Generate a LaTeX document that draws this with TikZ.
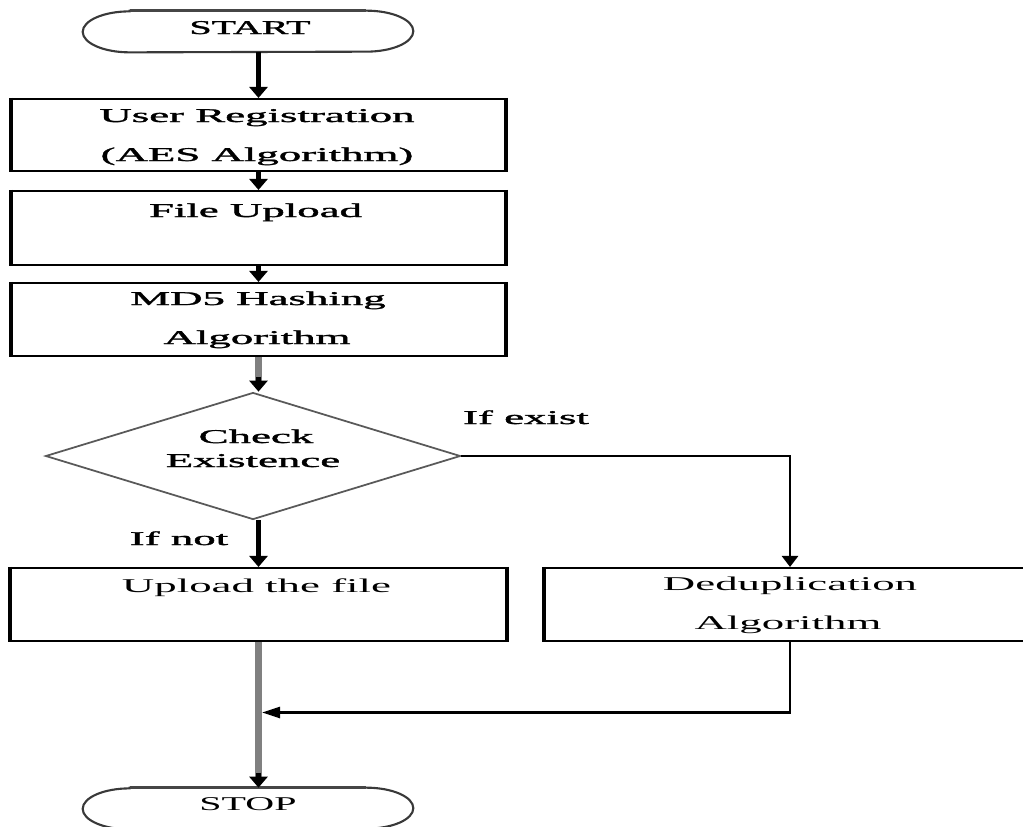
\documentclass[tikz,border=0pt]{standalone}
\usepackage{fontspec}
\setmainfont{Liberation Serif}
\newfontfamily\heavy{Liberation Serif}[FakeBold=1.2]
\usepackage{graphicx}
\usetikzlibrary{arrows.meta,shapes.geometric}
\newcommand{\sx}[1]{\scalebox{2.3}[1]{#1}}
\newcommand{\sxc}[1]{\scalebox{2.05}[1]{#1}}
\tikzset{
  px/.style={x=0.02cm,y=0.02cm},
  boxnode/.style={draw=black,line width=1.2pt,rectangle,inner sep=0pt},
  vedge/.style={line width=2.4pt,line cap=butt},
  txt/.style={anchor=base,inner sep=0pt,font=\fontsize{11.1pt}{13pt}\selectfont},
  htxt/.style={txt,font=\fontsize{11.1pt}{13pt}\heavy},
  term/.style={draw=gray!45!black,line width=1.2pt},
  termtop/.style={draw=gray!55!black,line width=1.8pt},
  darr/.style={line width=2.4pt,-{Triangle[length=0.22cm,width=0.36cm]}},
  sarr/.style={line width=1.5pt,-{Triangle[length=0.22cm,width=0.32cm]}},
  larr/.style={line width=1.5pt,-{Triangle[length=0.36cm,width=0.22cm]}},
  gline/.style={line width=3.6pt,draw=gray,shorten >=0.18cm},
  diam/.style={draw=gray!70!black,line width=1pt,diamond,aspect=3.27,inner sep=0pt,
    minimum width=8.3cm,minimum height=2.54cm},
}
\begin{document}
\begin{tikzpicture}[px]
\useasboundingbox (0,0) rectangle (1023,-826);
\clip (0,0) rectangle (1023,-826);
% terminals
\node[rectangle,inner sep=0pt,minimum width=6.6cm,minimum height=0.82cm] (start) at (248,-31.5) {};
\node[rectangle,inner sep=0pt,minimum width=6.6cm,minimum height=0.82cm] (stop) at (248,-808.5) {};
\foreach \t in {start,stop}{
  \draw[term] ([xshift=0.94cm]\t.north west) -- ([xshift=-0.94cm]\t.north east)
    arc[start angle=90,end angle=-90,x radius=0.94cm,y radius=0.41cm]
    -- ([xshift=0.94cm]\t.south west)
    arc[start angle=270,end angle=90,x radius=0.94cm,y radius=0.41cm] -- cycle;
  \draw[termtop] ([xshift=0.94cm]\t.north west) -- ([xshift=-0.94cm]\t.north east);
}
\node[htxt] (starttxt) at (250,-34) {\sxc{START}};
\node[txt] (stoptxt) at (248,-810) {\sxc{STOP}};
% process boxes
\node[boxnode,minimum width=9.86cm,minimum height=1.44cm] (ur) at (258.5,-135) {};
\node[boxnode,minimum width=9.86cm,minimum height=1.48cm] (fu) at (258.5,-228) {};
\node[boxnode,minimum width=9.86cm,minimum height=1.46cm] (md) at (258.5,-319.5) {};
\node[boxnode,minimum width=9.9cm,minimum height=1.46cm] (up) at (258.5,-604.5) {};
\node[boxnode,minimum width=9.8cm,minimum height=1.46cm] (dd) at (790,-604.5) {};
\foreach \n in {ur,fu,md,up,dd}{
  \draw[vedge] (\n.north west) -- (\n.south west) (\n.north east) -- (\n.south east);
}
\node[htxt] (ur1) at (257,-122) {\sx{User Registration}};
\node[htxt] (ur2) at (257,-161) {\sx{(AES Algorithm)}};
\node[htxt] (fu1) at (255.5,-217) {\sx{File Upload}};
\node[htxt] (md1) at (258,-305) {\sx{MD5 Hashing}};
\node[htxt] (md2) at (257,-344) {\sx{Algorithm}};
\node[txt] (up1) at (256.5,-592) {\sx{Upload the file}};
\node[txt] (dd1) at (790,-590) {\sx{Deduplication}};
\node[txt] (dd2) at (788,-629) {\sx{Algorithm}};
% decision
\node[diam] (dia) at (253,-456) {};
\node[htxt] (chk1) at (256,-443) {\sx{Check}};
\node[htxt] (chk2) at (253,-467) {\sx{Existence}};
\node[htxt] (ifex) at (526,-424) {\sx{If exist}};
\node[htxt] (ifnot) at (179,-545) {\sx{If not}};
% connectors
\draw[darr] (ur.north |- start.south) -- (ur.north);
\draw[darr] (ur.south) -- (fu.north);
\draw[darr] (fu.south) -- (md.north);
\coordinate (dtop) at (md.south |- dia.north);
\draw[gline] (md.south) -- (dtop);
\draw[darr] ([yshift=0.3cm]dtop) -- (dtop);
\draw[darr] (up.north |- dia.south) -- (up.north);
\draw[sarr] (dia.east) -| (dd.north);
\coordinate (join) at (262,-712.5);
\draw[larr] (dd.south) |- (join);
\coordinate (stoptop) at (up.south |- stop.north);
\draw[gline] (up.south) -- (stoptop);
\draw[darr] ([yshift=0.3cm]stoptop) -- (stoptop);
\end{tikzpicture}
\end{document}
